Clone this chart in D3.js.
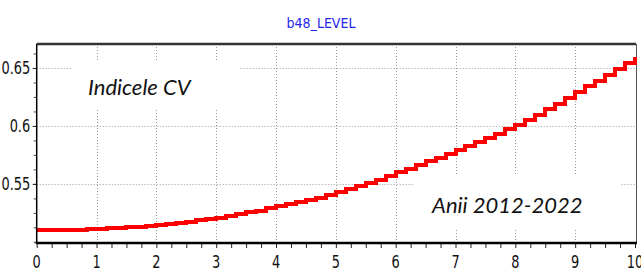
<!DOCTYPE html>
<html>
  <head>
    <meta charset="utf-8"/>
    <script src="https://cdnjs.cloudflare.com/ajax/libs/d3/7.8.5/d3.min.js"></script>
    <style type="text/css">

html, body {
  margin: 0;
  padding: 0;
  background: #fff;
}

svg {
  display: block;
}

.tick text, .title {
  font-family: "Liberation Sans Narrow", "DejaVu Sans Condensed", sans-serif;
}

.note {
  font-family: Lato, "Open Sans", sans-serif;
  font-style: italic;
  font-size: 22px;
  fill: #111;
}

.grid line {
  stroke: #9a9a9a;
  stroke-width: 1px;
  stroke-dasharray: 1,2;
}

    </style>
  </head>
  <body>
    <div id="chart"></div>
    <script type="text/javascript">

// time axis (0 = 2012, 10 = 2022), one step every two months
var years = d3.range(0, 61).map(function(i) { return i / 6; });

// b48_LEVEL, one value per step
var level = [
  0.5100, 0.5101, 0.5102, 0.5103, 0.5105, 0.5108,
  0.5112, 0.5116, 0.5121, 0.5126, 0.5132, 0.5139,
  0.5147, 0.5156, 0.5165, 0.5175, 0.5185, 0.5196,
  0.5207, 0.5222, 0.5238, 0.5254, 0.5270, 0.5288,
  0.5306, 0.5324, 0.5343, 0.5362, 0.5382, 0.5404,
  0.5428, 0.5453, 0.5480, 0.5508, 0.5537, 0.5568,
  0.5600, 0.5631, 0.5662, 0.5694, 0.5726, 0.5759,
  0.5793, 0.5828, 0.5863, 0.5898, 0.5934, 0.5971,
  0.6009, 0.6052, 0.6097, 0.6143, 0.6191, 0.6241,
  0.6293, 0.6342, 0.6392, 0.6442, 0.6493, 0.6544,
  0.6595
];

var xTicks = [0, 1, 2, 3, 4, 5, 6, 7, 8, 9, 10];
var yTicks = [0.55, 0.6, 0.65];
var xMinor = d3.range(0, 40.5).map(function(i) { return i * 0.25; });
var yMinor = d3.range(0, 14).map(function(i) { return 0.5 + i * 0.0125; });

var title = "b48_LEVEL";
var labelTop = "Indicele CV";
var labelBottom = "Anii 2012-2022";

var width = 641,
    height = 273,
    margin = {top: 44, right: 6, bottom: 30, left: 36.7};

var x = d3.scaleLinear().domain([0, 10]).range([margin.left, width - margin.right]);
var y = d3.scaleLinear().domain([0.499, 0.6707]).range([height - margin.bottom, margin.top]);

var svg = d3.select("#chart").append("svg")
    .attr("width", width)
    .attr("height", height);

svg.append("text")
    .attr("class", "title")
    .attr("x", 321)
    .attr("y", 28)
    .attr("text-anchor", "middle")
    .style("font-size", "14px")
    .style("fill", "#2424ee")
    .text(title);

// dotted grid
var grid = svg.append("g").attr("class", "grid");
grid.selectAll(".gx")
    .data(xTicks.slice(1, -1))
  .enter().append("line")
    .attr("x1", function(d) { return Math.round(x(d)) + 0.5; })
    .attr("x2", function(d) { return Math.round(x(d)) + 0.5; })
    .attr("y1", y.range()[1])
    .attr("y2", y.range()[0]);
grid.selectAll(".gy")
    .data(yTicks)
  .enter().append("line")
    .attr("x1", x.range()[0])
    .attr("x2", x.range()[1])
    .attr("y1", function(d) { return Math.round(y(d)) + 0.5; })
    .attr("y2", function(d) { return Math.round(y(d)) + 0.5; });

// white boxes behind the two notes hide the grid
svg.append("rect").attr("x", 72).attr("y", 60).attr("width", 168).attr("height", 50).attr("fill", "#fff");
svg.append("rect").attr("x", 413).attr("y", 176).attr("width", 207).attr("height", 52).attr("fill", "#fff");

svg.append("text")
    .attr("class", "note")
    .attr("x", 88)
    .attr("y", 95)
    .text(labelTop);

svg.append("text")
    .attr("class", "note")
    .attr("x", 432)
    .attr("y", 213)
    .text(labelBottom);

// frame
svg.append("line")
    .attr("x1", x.range()[0]).attr("x2", x.range()[1] + 1)
    .attr("y1", margin.top).attr("y2", margin.top)
    .attr("stroke", "#333").attr("stroke-width", 2.5);
svg.append("line")
    .attr("x1", x.range()[1] + 1.5).attr("x2", x.range()[1] + 1.5)
    .attr("y1", margin.top).attr("y2", y.range()[0])
    .attr("stroke", "#555").attr("stroke-width", 1);

// step line
var line = d3.line()
    .x(function(d, i) { return x(years[i]); })
    .y(function(d) { return y(d); })
    .curve(d3.curveStepAfter);

svg.append("path")
    .datum(level)
    .attr("d", line)
    .attr("fill", "none")
    .attr("stroke", "#ff0000")
    .attr("stroke-width", 4)
    .attr("shape-rendering", "crispEdges");

// axes
var xAxis = svg.append("g")
    .attr("transform", "translate(0," + y.range()[0] + ")");
xAxis.call(d3.axisBottom(x).tickValues(xMinor).tickSize(5).tickFormat(""))
    .call(function(g) { g.select(".domain").remove(); });
xAxis.selectAll(".tick line").attr("stroke", "#222");
var xLab = svg.append("g")
    .attr("transform", "translate(0," + y.range()[0] + ")")
    .call(d3.axisBottom(x).tickValues(xTicks).tickSize(0).tickPadding(12).tickFormat(d3.format("d")));
xLab.select(".domain").remove();
xLab.selectAll(".tick text")
    .style("font-size", "18px")
    .style("fill", "#111")
    .attr("transform", "scale(0.8,1)")
    .attr("x", 0);
xLab.selectAll(".tick")
    .attr("transform", function(d) { return "translate(" + x(d) + ",0)"; });
svg.append("line")
    .attr("x1", x.range()[0] - 1).attr("x2", x.range()[1] + 2)
    .attr("y1", y.range()[0]).attr("y2", y.range()[0])
    .attr("stroke", "#000").attr("stroke-width", 2.5);

var yAxis = svg.append("g")
    .attr("transform", "translate(" + x.range()[0] + ",0)");
yAxis.call(d3.axisLeft(y).tickValues(yMinor).tickSize(3).tickFormat(""))
    .call(function(g) { g.select(".domain").remove(); });
yAxis.selectAll(".tick line").attr("stroke", "#444");
var yLab = svg.append("g")
    .attr("transform", "translate(" + x.range()[0] + ",0)")
    .call(d3.axisLeft(y).tickValues(yTicks).tickSize(4).tickPadding(2).tickFormat(d3.format("")));
yLab.select(".domain").remove();
yLab.selectAll(".tick line").attr("stroke", "#222");
yLab.selectAll(".tick text")
    .style("font-size", "18px")
    .style("fill", "#111")
    .attr("transform", "scale(0.8,1)")
    .attr("x", -6.5 / 0.8);
svg.append("line")
    .attr("x1", x.range()[0]).attr("x2", x.range()[0])
    .attr("y1", margin.top).attr("y2", y.range()[0])
    .attr("stroke", "#000").attr("stroke-width", 1.5);

    </script>
  </body>
</html>
